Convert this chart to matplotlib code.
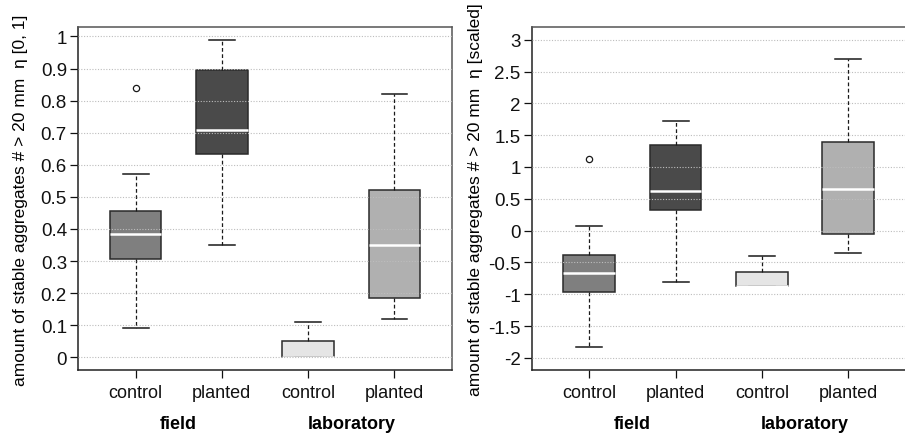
import matplotlib
matplotlib.use("Agg")
import matplotlib.pyplot as plt
from matplotlib import font_manager

plt.rcParams['axes.unicode_minus'] = False
names = {f.name for f in font_manager.fontManager.ttflist}
fam = 'Liberation Sans Narrow' if 'Liberation Sans Narrow' in names else 'Liberation Sans'
plt.rcParams['font.family'] = [fam, 'DejaVu Sans']

categories = ["control", "planted", "control", "planted"]
groups = ["field", "laboratory"]
box_colors = ["#7f7f7f", "#4a4a4a", "#e5e5e5", "#b0b0b0"]

# left panel: eta [0, 1]
left_whislo = [0.09, 0.35, 0.0, 0.12]
left_q1 = [0.305, 0.635, 0.0, 0.185]
left_med = [0.385, 0.71, 0.0, 0.35]
left_q3 = [0.455, 0.895, 0.05, 0.52]
left_whishi = [0.57, 0.99, 0.11, 0.82]
left_fliers = [[0.84], [], [], []]
left_ticks = [0, 0.1, 0.2, 0.3, 0.4, 0.5, 0.6, 0.7, 0.8, 0.9, 1]
left_ticklabels = ["0", "0.1", "0.2", "0.3", "0.4", "0.5", "0.6", "0.7", "0.8", "0.9", "1"]

# right panel: eta scaled
right_whislo = [-1.83, -0.80, -0.87, -0.35]
right_q1 = [-0.97, 0.33, -0.87, -0.06]
right_med = [-0.66, 0.63, -0.87, 0.66]
right_q3 = [-0.385, 1.35, -0.65, 1.39]
right_whishi = [0.07, 1.73, -0.40, 2.70]
right_fliers = [[1.13], [], [], []]
right_ticks = [-2, -1.5, -1, -0.5, 0, 0.5, 1, 1.5, 2, 2.5, 3]
right_ticklabels = ["-2", "-1.5", "-1", "-0.5", "0", "0.5", "1", "1.5", "2", "2.5", "3"]

W, H = 905, 435
SPACING = 86.3  # px per category unit
fig = plt.figure(figsize=(W / 100, H / 100), dpi=100)

def make_panel(left_px, width_px, whislo, q1, med, q3, whishi, fliers, ticks, ticklabels,
               ylim, ylabel, label_x_px):
    ax = fig.add_axes([left_px / W, (H - 371) / H, width_px / W, 343 / H])
    stats = []
    for i in range(len(categories)):
        stats.append(dict(whislo=whislo[i], q1=q1[i], med=med[i], q3=q3[i],
                          whishi=whishi[i], fliers=fliers[i]))
    pos = list(range(1, len(categories) + 1))
    bp = ax.bxp(stats, positions=pos, widths=0.6, patch_artist=True,
                showfliers=True, capwidths=0.3,
                boxprops=dict(edgecolor="#2a2a2a", linewidth=1.1),
                whiskerprops=dict(color="#1a1a1a", linewidth=0.9, linestyle=(0, (3, 2))),
                capprops=dict(color="#1a1a1a", linewidth=1.1),
                medianprops=dict(color="white", linewidth=1.8),
                flierprops=dict(marker="o", markersize=4.5, markerfacecolor="white",
                                markeredgecolor="#1a1a1a", markeredgewidth=0.9))
    for patch, c in zip(bp["boxes"], box_colors):
        patch.set_facecolor(c)
    for y in ticks:
        ax.axhline(y, color="#bdbdbd", linewidth=0.8, linestyle=(0, (1, 1.5)), zorder=5)
    ax.set_xlim(0.333, 0.333 + width_px / SPACING)
    ax.set_ylim(*ylim)
    ax.set_yticks(ticks)
    ax.set_yticklabels(ticklabels, fontsize=13.5)
    ax.set_xticks(pos)
    ax.set_xticklabels(categories, fontsize=13)
    ax.tick_params(axis="y", length=6, width=0.9, pad=2, colors="#111111")
    ax.tick_params(axis="x", length=6, width=0.9, pad=4, colors="#111111")
    for s in ["left", "bottom"]:
        ax.spines[s].set_color("#222222")
        ax.spines[s].set_linewidth(1.1)
    for s in ["top", "right"]:
        ax.spines[s].set_color("#555555")
        ax.spines[s].set_linewidth(1.1)
    ax.text(1.5, -0.155, groups[0], transform=ax.get_xaxis_transform(), ha="center",
            va="center", fontsize=13, fontweight="bold")
    ax.text(3.5, -0.155, groups[1], transform=ax.get_xaxis_transform(), ha="center",
            va="center", fontsize=13, fontweight="bold")
    fig.text(label_x_px / W, (H - 200) / H, ylabel, rotation=90, ha="center",
             va="center", fontsize=12.5)
    return ax

make_panel(78, 374, left_whislo, left_q1, left_med, left_q3, left_whishi, left_fliers,
           left_ticks, left_ticklabels, (-0.0396, 1.0296),
           "amount of stable aggregates # > 20 mm  \u03b7 [0, 1]", 21)
make_panel(531.7, 380, right_whislo, right_q1, right_med, right_q3, right_whishi, right_fliers,
           right_ticks, right_ticklabels, (-2.19, 3.2),
           "amount of stable aggregates # > 20 mm  \u03b7 [scaled]", 475)

fig.savefig("out.png", dpi=100)
